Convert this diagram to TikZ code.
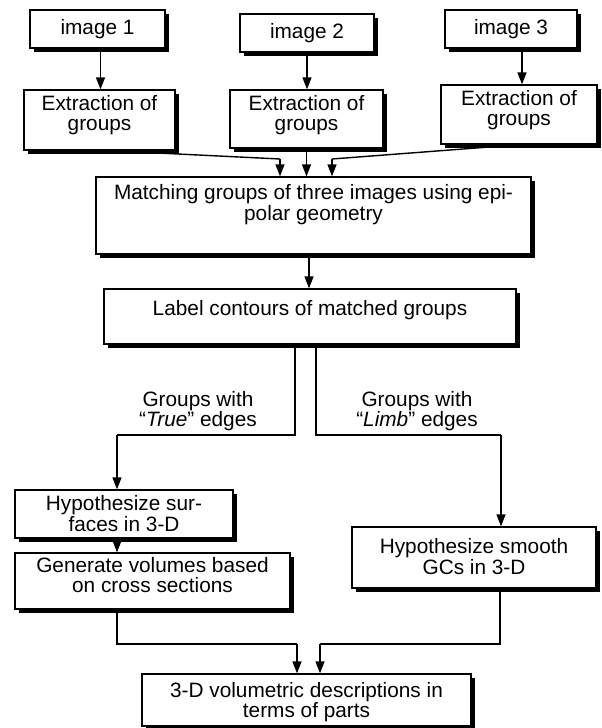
\documentclass[tikz,border=0pt]{standalone}
\usepackage{fontspec}
\setmainfont{Liberation Sans}
\usetikzlibrary{arrows.meta,shadows,calc}
\newcommand\mybox[5]{\node[box, minimum width={(#4)-(#2)}, minimum height={(#5)-(#3)}] (#1) at ({((#2)+(#4))/2},{((#3)+(#5))/2}) {};}
\begin{document}
\begin{tikzpicture}[x=1pt,y=-1pt,
  box/.style={draw, line width=1.3pt, fill=white, inner sep=0pt, rectangle,
    drop shadow={shadow xshift=4pt, shadow yshift=-4pt, fill=black, opacity=1}},
  txt/.style={inner sep=0pt, align=center, anchor=north, font=\fontsize{20.8}{17.5}\selectfont},
  etxt/.style={txt, font=\fontsize{20.8}{19.5}\selectfont},
  lbl/.style={inner sep=0pt, align=center, anchor=south, font=\fontsize{20.8}{17.5}\selectfont},
  arr/.style={line width=1.4pt, -{Triangle[length=12pt,width=9pt]}},
  ln/.style={line width=1.4pt}]
\useasboundingbox (0,0) rectangle (602,728);
% boxes
\mybox{img1}{30}{10}{165}{48}
\mybox{img2}{240}{14}{374}{52}
\mybox{img3}{445}{10}{577}{48}
\mybox{ext1}{24}{90}{175}{150}
\mybox{ext2}{230}{90}{383}{148}
\mybox{ext3}{441}{85}{597}{144}
\mybox{mat}{96}{177}{531}{254}
\mybox{lab}{104}{289}{516}{344}
\mybox{hs}{15}{490}{233}{538}
\mybox{gen}{15}{553}{290}{609}
\mybox{hg}{352}{527}{596}{588}
\mybox{vol}{142}{674}{471}{726}
% texts
\node[txt] (timg1) at ([yshift=-10pt]img1.north) {image 1};
\node[txt] (timg2) at ([yshift=-10pt]img2.north) {image 2};
\node[txt] (timg3) at ([yshift=-10pt]img3.north) {image 3};
\node[etxt] (text1) at ([yshift=-6pt]ext1.north) {Extraction of\\groups};
\node[etxt] (text2) at ([yshift=-6pt]ext2.north) {Extraction of\\groups};
\node[etxt] (text3) at ([yshift=-6pt]ext3.north) {Extraction of\\groups};
\node[txt] (tmat) at ([yshift=-8pt]mat.north) {Matching groups of three images using epi-\\polar geometry};
\node[txt] (tlab) at ([yshift=-12pt]lab.north) {Label contours of matched groups};
\node[txt] (ths) at ([yshift=-6pt]hs.north) {Hypothesize sur-\\faces in 3-D};
\node[etxt] (tgen) at ([yshift=-5pt]gen.north) {Generate volumes based\\on cross sections};
\node[txt] (thg) at ([yshift=-12pt]hg.north) {Hypothesize smooth\\GCs in 3-D};
\node[txt] (tvol) at ([yshift=-9pt]vol.north) {3-D volumetric descriptions in\\terms of parts};
% image -> extraction
\draw[arr] ([xshift=3pt]img1.south) -- ([xshift=3pt]img1.south |- ext1.north);
\draw[arr] (img2.south) -- (img2.south |- ext2.north);
\draw[arr] ([xshift=11pt]img3.south) -- ([xshift=11pt]img3.south |- ext3.north);
% extraction -> matching
\coordinate (c1) at (280,159);
\coordinate (c3) at (332,159);
\draw[ln] ([xshift=10pt]ext1.south) -- (c1);
\draw[arr] (c1) -- (c1 |- mat.north);
\draw[arr] (ext2.south) -- (ext2.south |- mat.north);
\draw[ln] ([xshift=1pt]ext3.south) -- (c3);
\draw[arr] (c3) -- (c3 |- mat.north);
% matching -> label
\coordinate (ml0) at (309,0);
\draw[arr] (mat.south -| ml0) -- (lab.north -| ml0);
% branches
\coordinate (bl) at (295,435);
\coordinate (br) at (316,435);
\coordinate (blh) at (117,435);
\coordinate (brh) at (501,435);
\draw[ln] (lab.south -| bl) -- (bl) -- (blh);
\draw[arr] (blh) -- (blh |- hs.north);
\draw[ln] (lab.south -| br) -- (br) -- (brh);
\draw[arr] (brh) -- (brh |- hg.north);
\node[lbl] (ltrue) at (198,431) {Groups with\\“\textit{True}” edges};
\node[lbl] (llimb) at (417,431) {Groups with\\“\textit{Limb}” edges};
% hs -> gen
\draw[arr] (hs.south -| blh) -- (gen.north -| blh);
% to volumetric
\coordinate (ml) at (117,644);
\coordinate (mr) at (500,644);
\coordinate (al) at (297,644);
\coordinate (ar) at (320,644);
\draw[ln] (gen.south -| ml) -- (ml) -- (al);
\draw[arr] (al) -- (al |- vol.north);
\draw[ln] (hg.south -| mr) -- (mr) -- (ar);
\draw[arr] (ar) -- (ar |- vol.north);
\end{tikzpicture}
\end{document}
